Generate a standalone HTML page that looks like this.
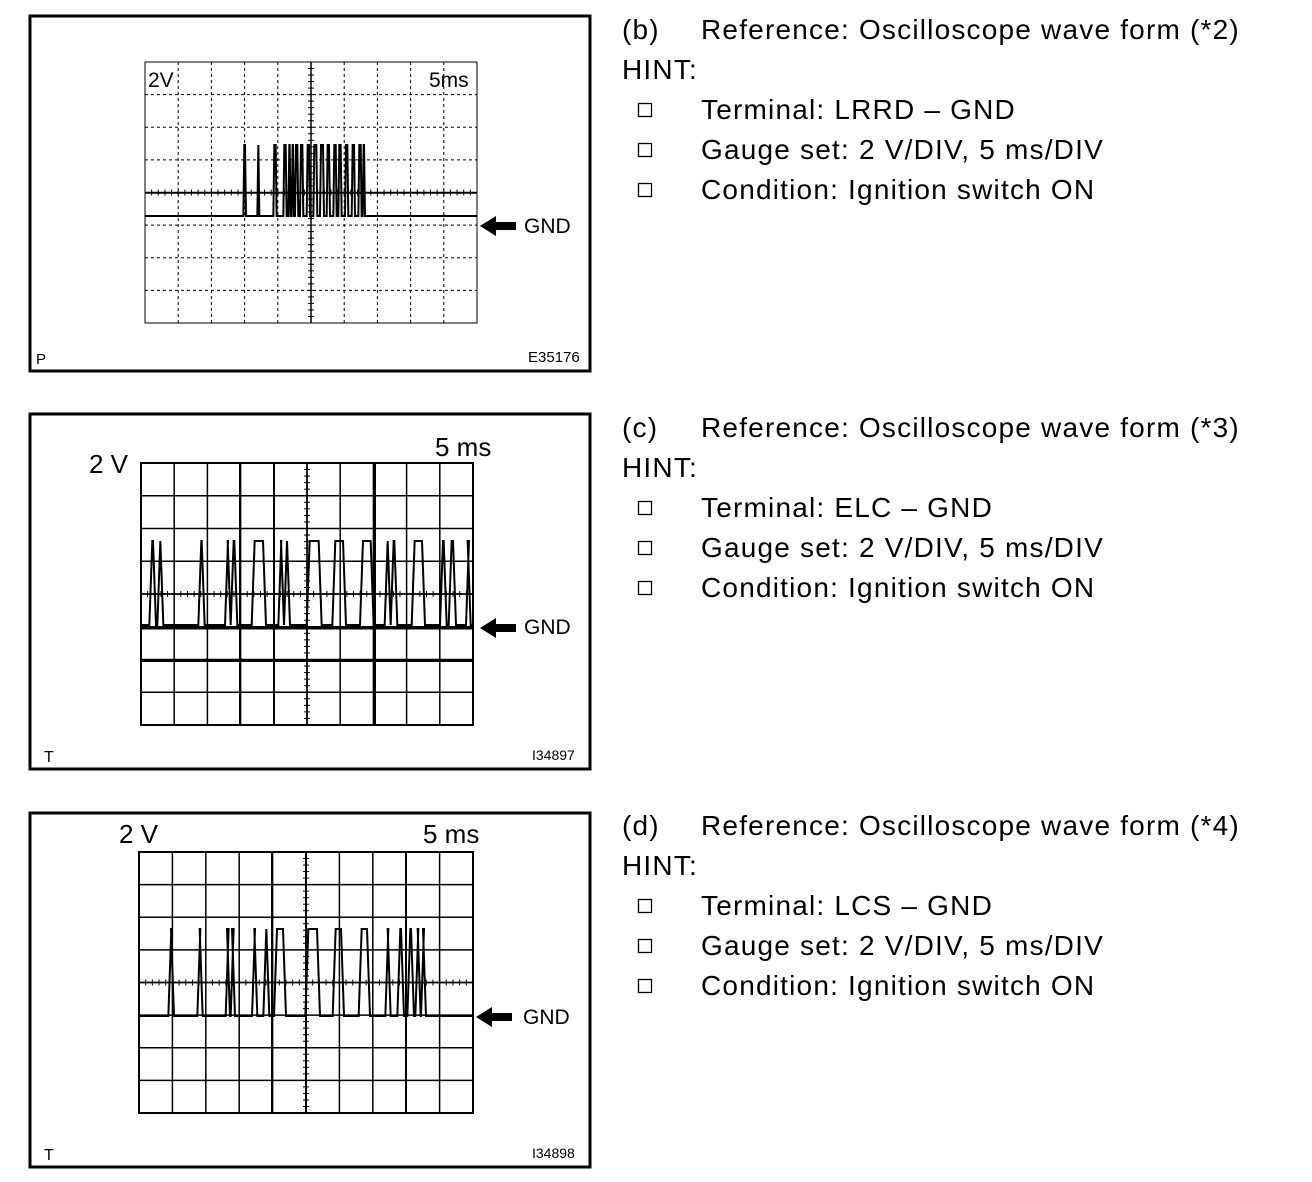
<!DOCTYPE html>
<html><head><meta charset="utf-8"><style>
html,body{margin:0;padding:0;background:#fff;}
svg{display:block;}
text{font-family:"Liberation Sans",Arial,sans-serif;fill:#000;}
</style></head><body>
<svg id="s" width="1312" height="1182" viewBox="0 0 1312 1182" xmlns="http://www.w3.org/2000/svg">
<rect x="0" y="0" width="1312" height="1182" fill="#fff"/>
<rect x="30" y="16" width="560" height="355" fill="none" stroke="#000" stroke-width="3"/>
<rect x="30" y="414" width="560" height="355" fill="none" stroke="#000" stroke-width="3"/>
<rect x="30" y="813" width="560" height="354" fill="none" stroke="#000" stroke-width="3"/>
<g id="g1"></g><g id="g2"></g><g id="g3"></g>
<text x="148" y="87" font-size="21">2V</text>
<text x="429" y="87" font-size="21">5ms</text>
<text x="36" y="364" font-size="15">P</text>
<text x="528" y="362" font-size="15">E35176</text>
<text x="524" y="233" font-size="21">GND</text>
<text x="89" y="473" font-size="26">2 V</text>
<text x="435" y="456" font-size="26">5 ms</text>
<text x="44" y="762" font-size="16">T</text>
<text x="532" y="760" font-size="14">I34897</text>
<text x="524" y="634" font-size="21">GND</text>
<text x="119" y="843" font-size="26">2 V</text>
<text x="423" y="843" font-size="26">5 ms</text>
<text x="44" y="1160" font-size="16">T</text>
<text x="532" y="1158" font-size="14">I34898</text>
<text x="523" y="1024" font-size="21">GND</text>
<path d="M480,226 L496,216 L496,222 L516,222 L516,230 L496,230 L496,236 Z" fill="#000"/>
<path d="M480,628 L496,618 L496,624 L516,624 L516,632 L496,632 L496,638 Z" fill="#000"/>
<path d="M476,1017 L492,1007 L492,1013 L512,1013 L512,1021 L492,1021 L492,1027 Z" fill="#000"/>
<g id="txt"></g>
</svg>
<script>
var NS="http://www.w3.org/2000/svg";
function el(p,t,a){var e=document.createElementNS(NS,t);for(var k in a)e.setAttribute(k,a[k]);p.appendChild(e);return e;}
function grid(g,x0,x1,y0,y1,opt){
  var dx=(x1-x0)/10,dy=(y1-y0)/8,i;
  for(i=0;i<=10;i++){var x=x0+i*dx;el(g,'line',{x1:x,x2:x,y1:y0,y2:y1,stroke:'#000','stroke-width':opt.w,'stroke-dasharray':opt.dash||'none'});}
  for(i=0;i<=8;i++){var y=y0+i*dy;el(g,'line',{x1:x0,x2:x1,y1:y,y2:y,stroke:'#000','stroke-width':opt.w,'stroke-dasharray':opt.dash||'none'});}
  var cx=x0+5*dx,cy=y0+4*dy;
  el(g,'line',{x1:cx,x2:cx,y1:y0,y2:y1,stroke:'#000','stroke-width':1.5});
  el(g,'line',{x1:x0,x2:x1,y1:cy,y2:cy,stroke:'#000','stroke-width':1.5});
  for(i=0;i<=40;i++){var y=y0+i*dy/5;el(g,'line',{x1:cx-3,x2:cx+3,y1:y,y2:y,stroke:'#000','stroke-width':1});}
  for(i=0;i<=50;i++){var x=x0+i*dx/5;el(g,'line',{x1:x,x2:x,y1:cy-3,y2:cy+3,stroke:'#000','stroke-width':1});}
  el(g,'rect',{x:x0,y:y0,width:x1-x0,height:y1-y0,fill:'none',stroke:'#000','stroke-width':opt.bw});
}
function wave(g,x0,x1,lo,hi,pulses,slope){
  var d='M'+x0+','+lo;
  pulses.forEach(function(p){d+=' L'+p[0]+','+lo+' L'+(p[0]+slope)+','+hi+' L'+(p[1]-slope)+','+hi+' L'+p[1]+','+lo;});
  d+=' L'+x1+','+lo;
  el(g,'path',{d:d,fill:'none',stroke:'#000','stroke-width':2,'stroke-linejoin':'miter'});
}
var g1=document.getElementById('g1');
grid(g1,145,477,62,323,{w:1,dash:'3,3',bw:1});
el(g1,'line',{x1:145,x2:477,y1:193,y2:193,stroke:'#000','stroke-width':1.5});
var p1=[[310,318],[352,358],[400,410],[430,440],[445,452],[455,462],[465,475],[480,490],[500,510],[520,532],[540,552],[560,570],[580,590],[595,605],[615,625],[635,645],[655,665],[668,675]];
wave(g1,145,477,216,145,p1.map(function(p){return [140+p[0]/3,140+p[1]/3];}),1);
var g2=document.getElementById('g2');
grid(g2,141,473,463,725,{w:1.5,bw:2});
el(g2,'line',{x1:141,x2:473,y1:628,y2:628,stroke:'#000','stroke-width':3});
el(g2,'line',{x1:141,x2:473,y1:661,y2:661,stroke:'#000','stroke-width':2});
[240,274,375].forEach(function(x){el(g2,'line',{x1:x,x2:x,y1:463,y2:725,stroke:'#000','stroke-width':2});});
var p2=[[58,78],[82,100],[205,224],[285,302],[302,322],[365,408],[445,462],[462,480],[530,575],[607,648],[690,731],[764,782],[782,802],[845,885],[930,950],[956,978],[1008,1022]];
wave(g2,141,473,625,541,p2.map(function(p){return [130+p[0]/3,130+p[1]/3];}),3);
var g3=document.getElementById('g3');
grid(g3,139,473,852,1113,{w:1.5,bw:2});
[272,306,406].forEach(function(x){el(g3,'line',{x1:x,x2:x,y1:852,y2:1113,stroke:'#000','stroke-width':2});});
var p3=[[115,132],[202,218],[287,300],[302,315],[366,382],[400,418],[432,468],[526,570],[608,642],[686,720],[766,782],[802,822],[832,852],[856,872],[873,888]];
wave(g3,139,473,1016,929,p3.map(function(p){return [130+p[0]/3,130+p[1]/3];}),3);
var T=document.getElementById('txt');
function tx(x,y,s){var e=el(T,'text',{x:x,y:y,'font-size':28,'letter-spacing':'1.2'});e.textContent=s;}
[['(b)','(*2)','LRRD',0],['(c)','(*3)','ELC',398],['(d)','(*4)','LCS',796]].forEach(function(b){
  var o=b[3];
  tx(622,39+o,b[0]);
  tx(701,39+o,'Reference: Oscilloscope wave form '+b[1]);
  tx(622,79+o,'HINT:');
  ['Terminal: '+b[2]+' \u2013 GND','Gauge set: 2 V/DIV, 5 ms/DIV','Condition: Ignition switch ON'].forEach(function(s,i){
    var y=119+o+i*40;
    el(T,'rect',{x:638.5,y:y-15.5,width:13,height:13,fill:'none',stroke:'#000','stroke-width':1.3});
    tx(701,y,s);
  });
});
</script>
</body></html>
